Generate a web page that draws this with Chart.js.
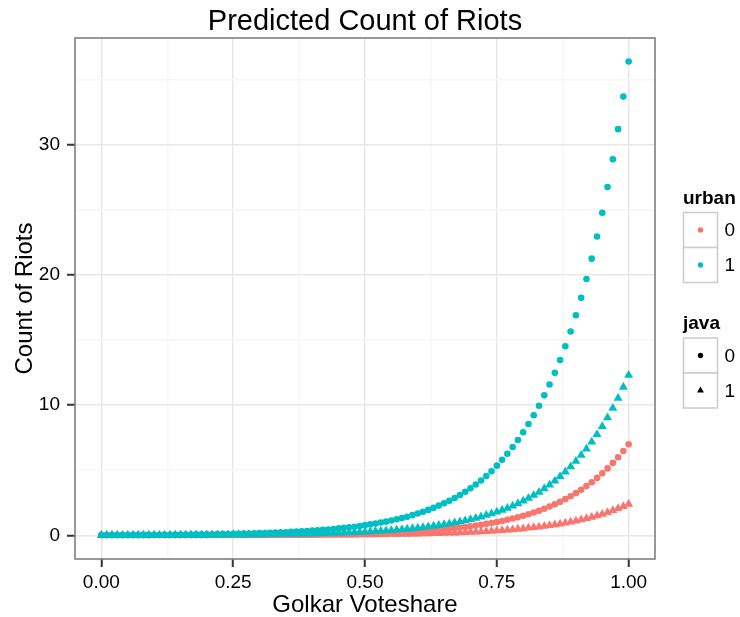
<!DOCTYPE html>
<html>
<head>
<meta charset="utf-8">
<script src="https://cdn.jsdelivr.net/npm/chart.js@4/dist/chart.umd.min.js"></script>
<style>
  html, body { margin: 0; padding: 0; background: #fff; }
  canvas { display: block; }
</style>
</head>
<body>
<canvas id="riotChart" width="740" height="617"></canvas>
<script>
// Golkar voteshare grid (x)
var voteshare = [
  0.00,0.01,0.02,0.03,0.04,0.05,0.06,0.07,0.08,0.09,
  0.10,0.11,0.12,0.13,0.14,0.15,0.16,0.17,0.18,0.19,
  0.20,0.21,0.22,0.23,0.24,0.25,0.26,0.27,0.28,0.29,
  0.30,0.31,0.32,0.33,0.34,0.35,0.36,0.37,0.38,0.39,
  0.40,0.41,0.42,0.43,0.44,0.45,0.46,0.47,0.48,0.49,
  0.50,0.51,0.52,0.53,0.54,0.55,0.56,0.57,0.58,0.59,
  0.60,0.61,0.62,0.63,0.64,0.65,0.66,0.67,0.68,0.69,
  0.70,0.71,0.72,0.73,0.74,0.75,0.76,0.77,0.78,0.79,
  0.80,0.81,0.82,0.83,0.84,0.85,0.86,0.87,0.88,0.89,
  0.90,0.91,0.92,0.93,0.94,0.95,0.96,0.97,0.98,0.99,
  1.00
];

// predicted counts, urban = 1, java = 0
var urban1java0 = [
  0.02,0.02,0.02,0.02,0.02,0.02,0.03,0.03,0.03,0.03,
  0.04,0.04,0.04,0.04,0.05,0.05,0.06,0.06,0.07,0.07,
  0.08,0.08,0.09,0.10,0.10,0.11,0.12,0.13,0.14,0.15,
  0.17,0.18,0.19,0.21,0.23,0.24,0.26,0.29,0.31,0.33,
  0.36,0.39,0.42,0.45,0.49,0.53,0.57,0.62,0.66,0.72,
  0.78,0.84,0.90,0.98,1.05,1.14,1.23,1.33,1.43,1.55,
  1.67,1.81,1.95,2.11,2.28,2.46,2.66,2.87,3.10,3.35,
  3.61,3.90,4.21,4.55,4.92,5.35,5.80,6.27,6.78,7.32,
  7.92,8.55,9.22,9.95,10.75,11.58,12.48,13.46,14.52,15.66,
  16.90,18.24,19.69,21.25,22.95,24.78,26.75,28.89,31.20,33.70,
  36.40
];

// urban = 1, java = 1
var urban1java1 = [
  0.01,0.01,0.01,0.01,0.01,0.01,0.01,0.01,0.01,0.01,
  0.01,0.01,0.01,0.01,0.02,0.02,0.02,0.02,0.02,0.02,
  0.03,0.03,0.03,0.03,0.03,0.04,0.04,0.04,0.05,0.05,
  0.06,0.06,0.07,0.07,0.08,0.08,0.09,0.10,0.10,0.11,
  0.12,0.13,0.14,0.15,0.17,0.18,0.19,0.21,0.22,0.24,
  0.26,0.28,0.31,0.33,0.36,0.38,0.42,0.45,0.48,0.52,
  0.57,0.61,0.66,0.71,0.77,0.83,0.90,0.97,1.05,1.13,
  1.22,1.32,1.42,1.54,1.66,1.79,1.94,2.09,2.26,2.44,
  2.64,2.85,3.08,3.32,3.59,3.87,4.18,4.52,4.88,5.27,
  5.69,6.15,6.64,7.17,7.75,8.37,9.04,9.76,10.54,11.39,
  12.30
];

// urban = 0, java = 0
var urban0java0 = [
  0.01,0.01,0.01,0.01,0.01,0.01,0.01,0.01,0.01,0.01,
  0.01,0.01,0.01,0.01,0.01,0.01,0.01,0.01,0.01,0.01,
  0.01,0.02,0.02,0.02,0.02,0.02,0.02,0.02,0.03,0.03,
  0.03,0.03,0.04,0.04,0.04,0.05,0.05,0.05,0.06,0.06,
  0.07,0.07,0.08,0.09,0.09,0.10,0.11,0.12,0.13,0.14,
  0.15,0.16,0.17,0.19,0.20,0.22,0.24,0.26,0.28,0.30,
  0.32,0.35,0.38,0.41,0.44,0.47,0.51,0.55,0.60,0.64,
  0.69,0.75,0.81,0.88,0.95,1.02,1.10,1.19,1.29,1.39,
  1.50,1.62,1.75,1.89,2.04,2.21,2.38,2.57,2.78,3.00,
  3.24,3.50,3.78,4.08,4.41,4.76,5.14,5.56,6.00,6.48,
  7.00
];

// urban = 0, java = 1
var urban0java1 = [
  0.00,0.00,0.00,0.00,0.00,0.00,0.00,0.00,0.00,0.00,
  0.00,0.00,0.00,0.00,0.00,0.00,0.00,0.00,0.00,0.00,
  0.01,0.01,0.01,0.01,0.01,0.01,0.01,0.01,0.01,0.01,
  0.01,0.01,0.01,0.01,0.01,0.02,0.02,0.02,0.02,0.02,
  0.02,0.03,0.03,0.03,0.03,0.03,0.04,0.04,0.04,0.05,
  0.05,0.06,0.06,0.07,0.07,0.08,0.08,0.09,0.09,0.10,
  0.11,0.12,0.13,0.14,0.15,0.16,0.18,0.19,0.20,0.22,
  0.24,0.26,0.28,0.30,0.32,0.35,0.38,0.41,0.44,0.48,
  0.51,0.56,0.60,0.65,0.70,0.76,0.82,0.88,0.95,1.03,
  1.11,1.20,1.30,1.40,1.51,1.63,1.76,1.91,2.06,2.22,
  2.40
];

var xTickValues = [0, 0.125, 0.25, 0.375, 0.5, 0.625, 0.75, 0.875, 1];
var xTickLabels = ['0.00', '', '0.25', '', '0.50', '', '0.75', '', '1.00'];
var yTickValues = [0, 5, 10, 15, 20, 25, 30, 35];
var yTickLabels = ['0', '', '10', '', '20', '', '30', ''];

var RED = '#F8766D';
var CYAN = '#00BFC4';
var FONT = '"Liberation Sans", Arial, Helvetica, sans-serif';

function pts(ys) {
  return voteshare.map(function (x, i) { return { x: x, y: ys[i] }; });
}

function isMajor(list, labels, v) {
  var i = list.indexOf(v);
  return i >= 0 && labels[i] !== '';
}

// titles, panel border and the two-part legend
var decorations = {
  id: 'decorations',
  afterDatasetsDraw: function (chart) {
    var a = chart.chartArea;
    var ctx = chart.ctx;
    ctx.save();
    ctx.strokeStyle = '#7f7f7f';
    ctx.lineWidth = 1.6;
    ctx.strokeRect(a.left, a.top, a.right - a.left, a.bottom - a.top);
    ctx.restore();
  },
  afterDraw: function (chart) {
    var a = chart.chartArea;
    var ctx = chart.ctx;
    ctx.save();
    ctx.fillStyle = '#000';
    ctx.textAlign = 'center';
    ctx.textBaseline = 'alphabetic';
    ctx.font = '29px ' + FONT;
    ctx.fillText('Predicted Count of Riots', (a.left + a.right) / 2, 29.5);

    ctx.font = '24px ' + FONT;
    ctx.fillText('Golkar Voteshare', (a.left + a.right) / 2, 612);

    ctx.save();
    ctx.translate(32, (a.top + a.bottom) / 2);
    ctx.rotate(-Math.PI / 2);
    ctx.fillText('Count of Riots', 0, 0);
    ctx.restore();

    // legend
    var kx = 683.5, kw = 34, kh = 35;
    function key(y, label, draw) {
      ctx.fillStyle = '#fff';
      ctx.fillRect(kx, y, kw, kh);
      ctx.strokeStyle = '#cccccc';
      ctx.lineWidth = 1.5;
      ctx.strokeRect(kx, y, kw, kh);
      draw(kx + kw / 2, y + kh / 2);
      ctx.fillStyle = '#000';
      ctx.font = '19px ' + FONT;
      ctx.textAlign = 'left';
      ctx.textBaseline = 'middle';
      ctx.fillText(label, kx + kw + 7, y + kh / 2 + 1);
    }
    function dot(col) {
      return function (cx, cy) {
        ctx.fillStyle = col;
        ctx.beginPath();
        ctx.arc(cx, cy, 2.7, 0, Math.PI * 2);
        ctx.fill();
      };
    }
    function tri(col) {
      return function (cx, cy) {
        var r = 4;
        ctx.fillStyle = col;
        ctx.beginPath();
        ctx.moveTo(cx, cy - r);
        ctx.lineTo(cx + r * 0.866, cy + r / 2);
        ctx.lineTo(cx - r * 0.866, cy + r / 2);
        ctx.closePath();
        ctx.fill();
      };
    }
    ctx.fillStyle = '#000';
    ctx.textAlign = 'left';
    ctx.textBaseline = 'alphabetic';
    ctx.font = 'bold 19px ' + FONT;
    ctx.fillText('urban', 683, 204);
    key(212.5, '0', dot(RED));
    key(247.5, '1', dot(CYAN));

    ctx.fillStyle = '#000';
    ctx.textAlign = 'left';
    ctx.textBaseline = 'alphabetic';
    ctx.font = 'bold 19px ' + FONT;
    ctx.fillText('java', 683, 329);
    key(338, '0', dot('#000'));
    key(373, '1', tri('#000'));
    ctx.restore();
  }
};

var data = {
  datasets: [
    { label: 'urban 1, java 1', data: pts(urban1java1), backgroundColor: CYAN, borderColor: CYAN, pointStyle: 'triangle', pointRadius: 5.2, borderWidth: 0 },
    { label: 'urban 1, java 0', data: pts(urban1java0), backgroundColor: CYAN, borderColor: CYAN, pointStyle: 'circle', pointRadius: 3.3, borderWidth: 0 },
    { label: 'urban 0, java 1', data: pts(urban0java1), backgroundColor: RED, borderColor: RED, pointStyle: 'triangle', pointRadius: 5.2, borderWidth: 0 },
    { label: 'urban 0, java 0', data: pts(urban0java0), backgroundColor: RED, borderColor: RED, pointStyle: 'circle', pointRadius: 3.3, borderWidth: 0 }
  ]
};

var config = {
  type: 'scatter',
  data: data,
  options: {
    responsive: false,
    animation: false,
    devicePixelRatio: 1,
    layout: { padding: { top: 38, right: 85, left: 0, bottom: 0 } },
    plugins: {
      legend: { display: false },
      title: { display: false },
      tooltip: { enabled: false }
    },
    scales: {
      x: {
        type: 'linear',
        min: -0.05,
        max: 1.05,
        afterBuildTicks: function (s) {
          s.ticks = xTickValues.map(function (v) { return { value: v }; });
        },
        afterFit: function (s) { s.height = 58; },
        border: { display: false },
        grid: {
          color: function (c) { return isMajor(xTickValues, xTickLabels, c.tick.value) ? '#e8e8e8' : '#f6f6f6'; },
          lineWidth: 1.5,
          tickColor: function (c) { return isMajor(xTickValues, xTickLabels, c.tick.value) ? '#333' : 'rgba(0,0,0,0)'; },
          tickLength: 8,
          tickWidth: 2
        },
        ticks: {
          autoSkip: false,
          maxRotation: 0,
          padding: 4,
          color: '#000',
          font: { family: FONT, size: 19 },
          callback: function (v) {
            var i = xTickValues.indexOf(v);
            return i >= 0 ? xTickLabels[i] : '';
          }
        }
      },
      y: {
        type: 'linear',
        min: -1.82,
        max: 38.2,
        afterBuildTicks: function (s) {
          s.ticks = yTickValues.map(function (v) { return { value: v }; });
        },
        afterFit: function (s) { s.width = 75; },
        border: { display: false },
        grid: {
          color: function (c) { return isMajor(yTickValues, yTickLabels, c.tick.value) ? '#e8e8e8' : '#f6f6f6'; },
          lineWidth: 1.5,
          tickColor: function (c) { return isMajor(yTickValues, yTickLabels, c.tick.value) ? '#333' : 'rgba(0,0,0,0)'; },
          tickLength: 8,
          tickWidth: 2
        },
        ticks: {
          autoSkip: false,
          padding: 7,
          color: '#000',
          font: { family: FONT, size: 19 },
          callback: function (v) {
            var i = yTickValues.indexOf(v);
            return i >= 0 ? yTickLabels[i] : '';
          }
        }
      }
    }
  },
  plugins: [decorations]
};

var riotChart = new Chart(document.getElementById('riotChart'), config);
</script>
</body>
</html>
